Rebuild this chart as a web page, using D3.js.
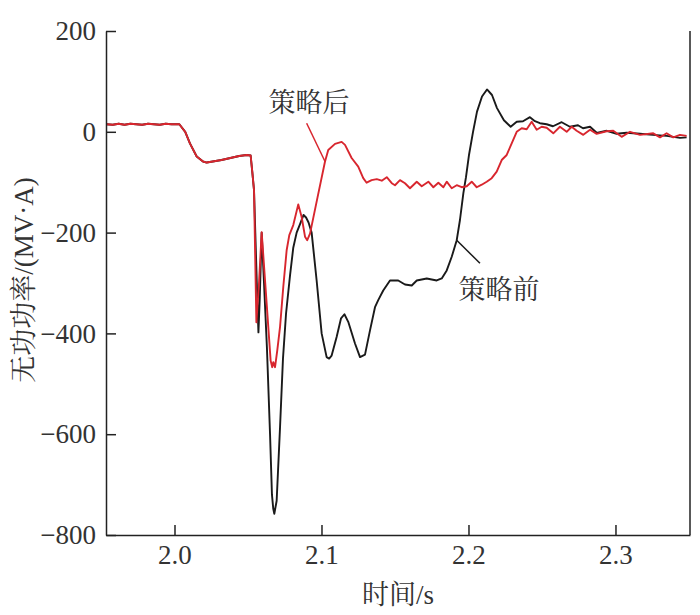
<!DOCTYPE html>
<html>
<head>
<meta charset="utf-8">
<script src="https://cdn.jsdelivr.net/npm/d3@7/dist/d3.min.js"></script>
<style>
  body { margin: 0; background: #fff; }
  .axis path, .axis line { stroke: #222; stroke-width: 1.5; }
  .lbl { font-family: "Liberation Serif", "Noto Serif CJK SC", serif; fill: #333; }
</style>
</head>
<body>
<div id="chart"></div>
<script>

// shared part of both curves (time s, reactive power MV·A)
var shared = [
    [1.9537, 15], [1.958, 14], [1.962, 16], [1.966, 14], [1.970, 16], [1.974, 15], [1.978, 14],
    [1.982, 16], [1.986, 15], [1.990, 14], [1.994, 16], [1.998, 15], [2.0033, 15], [2.0073, 0],
    [2.0105, -23], [2.0151, -49], [2.0194, -59], [2.0219, -61], [2.026, -59], [2.032, -56],
    [2.038, -52], [2.044, -48], [2.0491, -46], [2.0518, -47], [2.0530, -82], [2.0541, -116]
];

// 策略前 (black)
var before = [
    [2.0560, -300], [2.0571, -398], [2.0580, -330], [2.0593, -200], [2.0609, -300], [2.0629, -430],
    [2.0650, -600], [2.0663, -720], [2.0672, -748], [2.0679, -758], [2.0695, -732], [2.0718, -586],
    [2.0738, -450], [2.0759, -360], [2.0786, -285], [2.0808, -230], [2.0831, -200], [2.0854, -183],
    [2.0878, -165], [2.0895, -170], [2.0912, -180], [2.0933, -200], [2.0967, -295], [2.1001, -400],
    [2.1035, -447], [2.1052, -450], [2.1069, -444], [2.1103, -407], [2.1133, -370], [2.1156, -362],
    [2.1182, -377], [2.1228, -420], [2.1262, -447], [2.1296, -442], [2.1330, -394], [2.1364, -348],
    [2.1386, -334], [2.1420, -315], [2.1466, -295], [2.1522, -295], [2.1568, -303], [2.1614, -305],
    [2.1648, -295], [2.1716, -291], [2.1784, -295], [2.1818, -291], [2.1852, -275], [2.1886, -248],
    [2.1920, -215], [2.1942, -175], [2.1965, -122], [2.1983, -90], [2.2004, -45], [2.2031, 0],
    [2.2058, 40], [2.2092, 70], [2.2126, 84], [2.2160, 73], [2.2194, 47], [2.2241, 23], [2.2287, 10],
    [2.2328, 20], [2.2371, 21], [2.2418, 29], [2.2452, 21], [2.2486, 17], [2.2532, 15], [2.2575, 11],
    [2.2634, 19], [2.2690, 10], [2.2745, 13], [2.2779, 7], [2.2827, 10], [2.2872, -2], [2.2940, 2],
    [2.3008, -4], [2.3076, -2], [2.3167, -4], [2.3255, -6], [2.3348, -8], [2.3439, -12], [2.3484, -11]
];

// 策略后 (red)
var after = [
    [2.0557, -378], [2.0575, -300], [2.0593, -199], [2.0616, -295], [2.0638, -387], [2.0654, -454],
    [2.0665, -467], [2.0672, -457], [2.0684, -467], [2.0699, -434], [2.0718, -387], [2.0740, -308],
    [2.0763, -235], [2.0781, -205], [2.0808, -185], [2.0842, -144], [2.0865, -169], [2.0888, -208],
    [2.0903, -215], [2.0922, -202], [2.0973, -130], [2.1024, -59], [2.1046, -36], [2.1092, -24],
    [2.1137, -20], [2.1160, -26], [2.1205, -52], [2.1250, -69], [2.1284, -92], [2.1307, -101],
    [2.1341, -96], [2.1376, -94], [2.1410, -97], [2.1444, -90], [2.1478, -102], [2.1500, -106],
    [2.1534, -96], [2.1568, -102], [2.1602, -112], [2.1648, -99], [2.1682, -108], [2.1727, -99],
    [2.1761, -110], [2.1795, -101], [2.1829, -110], [2.1852, -99], [2.1886, -112], [2.1920, -106],
    [2.1954, -110], [2.1988, -108], [2.2022, -99], [2.2056, -110], [2.2090, -105], [2.2124, -99],
    [2.2158, -92], [2.2192, -79], [2.2226, -56], [2.2260, -46], [2.2294, -23], [2.2328, 0],
    [2.2362, 7], [2.2396, 5], [2.2430, 20], [2.2464, 4], [2.2498, 10], [2.2532, 8], [2.2577, -3],
    [2.2622, 10], [2.2668, 0], [2.2702, 10], [2.2736, 2], [2.2781, -6], [2.2827, 4], [2.2872, -4],
    [2.2940, 1], [2.2985, 2], [2.3042, -10], [2.3099, 0], [2.3167, -6], [2.3257, -3], [2.3303, -11],
    [2.3348, -3], [2.3393, -11], [2.3439, -6], [2.3484, -8]
];

var xTicks = [2.0, 2.1, 2.2, 2.3];
var yTicks = [200, 0, -200, -400, -600, -800];

// annotations: label text, label position, leader line start/end (data units)
var labels = [
    {text: "策略后", at: [2.0915, 57], from: [2.0899, 17], to: [2.1024, -59], color: "#d8262e"},
    {text: "策略前", at: [2.2207, -313], from: [2.2078, -261], to: [2.1920, -215], color: "#1a1a1a"}
];

var width = 700, height = 615;
var margin = {top: 31, right: 10, bottom: 80, left: 106};

var svg = d3.select("#chart").append("svg").attr("width", width).attr("height", height);

var x = d3.scaleLinear().domain([1.9534, 2.3507]).range([margin.left, width - margin.right]);
var y = d3.scaleLinear().domain([-800, 200]).range([height - margin.bottom, margin.top]);

var line = d3.line()
    .x(function (d) { return x(d[0]); })
    .y(function (d) { return y(d[1]); });

svg.append("path").datum(shared.concat(before))
    .attr("fill", "none").attr("stroke", "#1a1a1a").attr("stroke-width", 1.9)
    .attr("stroke-linejoin", "round").attr("d", line);

svg.append("path").datum(shared.concat(after))
    .attr("fill", "none").attr("stroke", "#d8262e").attr("stroke-width", 1.9)
    .attr("stroke-linejoin", "round").attr("d", line);

// axes, ticks pointing inwards
var gx = svg.append("g").attr("class", "axis")
    .attr("transform", "translate(0," + y(-800) + ")")
    .call(d3.axisBottom(x).tickValues(xTicks).tickFormat(d3.format(".1f")).tickSizeInner(-10).tickSizeOuter(0).tickPadding(10));

var gy = svg.append("g").attr("class", "axis")
    .attr("transform", "translate(" + x.range()[0] + ",0)")
    .call(d3.axisLeft(y).tickValues(yTicks).tickSizeInner(-10).tickSizeOuter(0).tickPadding(10));

[gx, gy].forEach(function (g) {
    g.attr("font-family", null).attr("font-size", null);
    g.selectAll("text").attr("class", "lbl").attr("fill", null).style("font-size", "27px");
});

// right frame line
svg.append("line")
    .attr("x1", x.range()[1]).attr("x2", x.range()[1])
    .attr("y1", y(200)).attr("y2", y(-800))
    .attr("stroke", "#222").attr("stroke-width", 1.5);

// annotations
labels.forEach(function (d) {
    svg.append("line")
        .attr("x1", x(d.from[0])).attr("y1", y(d.from[1]))
        .attr("x2", x(d.to[0])).attr("y2", y(d.to[1]))
        .attr("stroke", d.color).attr("stroke-width", 1.5);
    svg.append("text").attr("class", "lbl")
        .attr("x", x(d.at[0])).attr("y", y(d.at[1]))
        .attr("text-anchor", "middle").attr("dominant-baseline", "central")
        .attr("font-size", 27).text(d.text);
});

// axis titles
svg.append("text").attr("class", "lbl")
    .attr("x", (x.range()[0] + x.range()[1]) / 2).attr("y", 595)
    .attr("text-anchor", "middle").attr("dominant-baseline", "central")
    .attr("font-size", 27).text("时间/s");

svg.append("text").attr("class", "lbl")
    .attr("transform", "translate(24,280) rotate(-90)")
    .attr("text-anchor", "middle").attr("dominant-baseline", "central")
    .attr("font-size", 27).text("无功功率/(MV·A)");
</script>
</body>
</html>
